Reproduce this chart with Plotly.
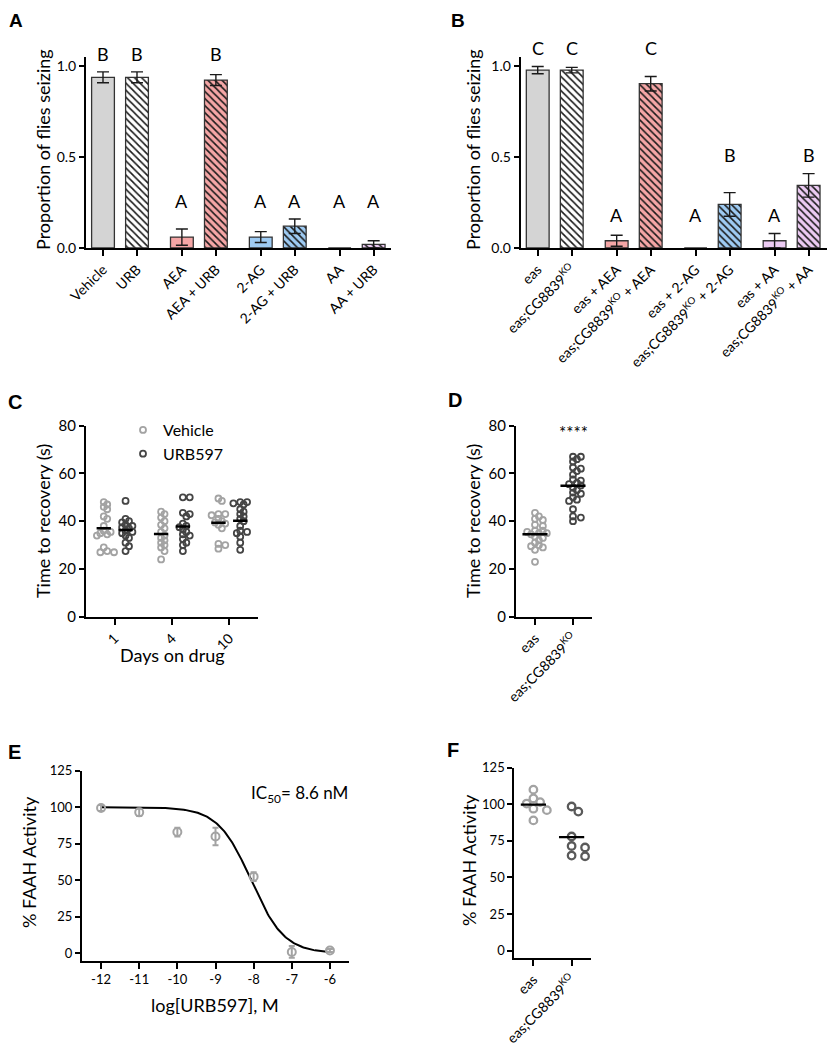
import numpy as np
import plotly.graph_objects as go

FONT = "Lato, 'Open Sans', sans-serif"
OFF = 8                     # page body margin in the browser
W, H = 837 - OFF, 1050 - OFF - 2

# ---------------- data ----------------
# Panel A
a_labels = ["Vehicle", "URB", "AEA", "AEA + URB", "2-AG", "2-AG + URB", "AA", "AA + URB"]
a_values = [0.94, 0.94, 0.06, 0.925, 0.06, 0.12, 0.0, 0.02]
a_errors = [0.03, 0.03, 0.045, 0.03, 0.03, 0.04, 0.0, 0.02]
a_letters = ["B", "B", "A", "B", "A", "A", "A", "A"]

# Panel B
KO = "eas;CG8839<sup>KO</sup>"
b_labels = ["eas", KO, "eas + AEA", KO + " + AEA", "eas + 2-AG", KO + " + 2-AG", "eas + AA", KO + " + AA"]
b_values = [0.98, 0.98, 0.04, 0.905, 0.0, 0.24, 0.04, 0.345]
b_errors = [0.02, 0.015, 0.03, 0.04, 0.0, 0.065, 0.04, 0.065]
b_letters = ["C", "C", "A", "C", "A", "B", "A", "B"]

# Panel C
c_days = ["1", "4", "10"]
c_vehicle = [
    [48, 47, 46, 45, 42, 41, 38, 36, 35.5, 35, 34.5, 34, 29, 27.5, 27, 27],
    [44, 43, 41.5, 40, 38.5, 37, 35.5, 34, 33, 32, 31, 30, 29, 27.5, 24],
    [49.5, 48.5, 43, 43, 42.5, 41, 40, 39.5, 39, 38.5, 37, 30.5, 30, 28.5],
]
c_urb = [
    [48.5, 41, 40, 39.5, 38.5, 38, 37.5, 37, 36, 35.5, 35, 34, 33, 31, 29.5, 27.5],
    [50, 50, 43.5, 43, 42, 39, 38, 37.5, 36.5, 35.5, 34.5, 34, 32.5, 31, 30, 27.5],
    [48, 48, 47.5, 47, 45, 44, 43, 42, 41, 40, 38, 36, 35.5, 35, 33.5, 31, 28],
]

# Panel D
d_labels = ["eas", KO]
d_eas = [43.5, 42, 40.5, 41, 38.5, 38, 36, 35.5, 36, 35, 35, 34.5, 33.5, 33, 32, 31, 30, 29.5, 29, 28, 23]
d_ko = [67, 67, 66, 65, 62.5, 62, 61, 59.5, 57.5, 57, 56, 55.5, 55, 54, 53, 52, 51.5, 50, 49, 48.5, 45, 42, 41.5, 40]

# Panel E
e_logconc = [-12, -11, -10, -9, -8, -7, -6]
e_tick_text = ["-12", "-11", "-10", "-9", "-8", "-7", "-6"]
e_activity = [99.5, 96.5, 83, 80, 52.5, 1, 2]
e_sem = [2, 2.5, 3, 6, 3, 4, 1]
e_ic50_nM = 8.6
e_hill = 1.0
e_top, e_bottom = 100.0, 0.0

# Panel F
f_labels = ["eas", KO]
f_eas = [110, 104, 101.5, 100.5, 97, 96, 89]
f_ko = [98.5, 95, 78, 71.5, 70.5, 65, 64.5]

# ---------------- styles ----------------
bar_fills = ["#d4d4d4", "#ffffff", "#f5a6a6", "#f5a6a6", "#9ecbf3", "#9ecbf3", "#eccbf3", "#eccbf3"]
bar_hatched = [False, True, False, True, False, True, False, True]
VEH_C = "#a3a3a3"
URB_C = "#454545"


def xd(p0, p1):
    return [(p0 - OFF) / W, (p1 - OFF) / W]


def yd(top, bot):
    return [1 - (bot - OFF) / H, 1 - (top - OFF) / H]


def px_x(x):
    return (x - OFF) / W


def px_y(y):
    return 1 - (y - OFF) / H


def swarm(values, ppu_y, ppu_x, diam, step_frac=0.9):
    vals = np.asarray(values, dtype=float)
    order = np.argsort(-vals)
    placed = []
    off = np.zeros(len(vals))
    step = diam * step_frac
    for i in order:
        y = vals[i] * ppu_y
        for k in range(0, 40):
            c = 0.0 if k == 0 else ((k + 1) // 2) * step * (1 if k % 2 else -1)
            if all((c - px) ** 2 + (y - py) ** 2 >= diam ** 2 for px, py in placed):
                placed.append((c, y))
                off[i] = c / ppu_x
                break
    return off


fig = go.Figure()

# bar positions: pairs separated by a gap
pos = np.array([(i // 2) * 2.32 + (i % 2) for i in range(8)])


def add_bars(values, errors, xa, ya):
    for i in range(len(values)):
        fill = bar_fills[i]
        if bar_hatched[i]:
            pat = dict(shape="\\", fgcolor="#1a1a1a", bgcolor=fill, size=5, solidity=0.32, fillmode="replace")
        else:
            pat = dict(shape="")
        fig.add_trace(go.Bar(
            x=[pos[i]], y=[values[i]], width=0.67,
            marker=dict(color=fill, line=dict(color="#333333", width=1.3), pattern=pat),
            error_y=dict(type="data", array=[errors[i]], visible=errors[i] > 0,
                         color="#1a1a1a", thickness=1.4, width=6),
            xaxis=xa, yaxis=ya, showlegend=False, hoverinfo="skip"))


add_bars(a_values, a_errors, "x", "y")
add_bars(b_values, b_errors, "x2", "y2")

annotations = []


def letter_annots(values, errors, letters, xref, yref, pad=0.028):
    tops = np.array(values) + np.array(errors)
    for L in sorted(set(letters)):
        idx = [j for j, l in enumerate(letters) if l == L]
        yv = max(tops[j] for j in idx) + pad
        for j in idx:
            annotations.append(dict(x=pos[j], y=yv, xref=xref, yref=yref, text=L, showarrow=False,
                                    yanchor="bottom", font=dict(family=FONT, size=18, color="black")))


letter_annots(a_values, a_errors, a_letters, "x", "y")
letter_annots(b_values, b_errors, b_letters, "x2", "y2")

# Panel C scatter
C_PPX, C_PPY = 57.3, 2.3875
for d in range(3):
    for vals, shift, col, name in [(c_vehicle[d], -0.19, VEH_C, "Vehicle"), (c_urb[d], 0.19, URB_C, "URB597")]:
        off = swarm(vals, C_PPY, C_PPX, 3.8)
        fig.add_trace(go.Scatter(
            x=d + shift + off, y=vals, mode="markers",
            marker=dict(symbol="circle-open", size=6, color=col, line=dict(width=1.8, color=col)),
            xaxis="x3", yaxis="y3", name=name, showlegend=(d == 0), hoverinfo="skip"))
        m = float(np.mean(vals))
        fig.add_trace(go.Scatter(
            x=[d + shift - 0.125, d + shift + 0.125], y=[m, m], mode="lines",
            line=dict(color="black", width=2.5), xaxis="x3", yaxis="y3", showlegend=False, hoverinfo="skip"))

# Panel D scatter
D_PPX = 38.3
for k, (vals, col) in enumerate([(d_eas, VEH_C), (d_ko, URB_C)]):
    off = swarm(vals, C_PPY, D_PPX, 4.4)
    fig.add_trace(go.Scatter(
        x=k + off, y=vals, mode="markers",
        marker=dict(symbol="circle-open", size=6, color=col, line=dict(width=1.8, color=col)),
        xaxis="x4", yaxis="y4", showlegend=False, hoverinfo="skip"))
    m = float(np.mean(vals))
    fig.add_trace(go.Scatter(x=[k - 0.33, k + 0.33], y=[m, m], mode="lines",
                             line=dict(color="black", width=2.5), xaxis="x4", yaxis="y4",
                             showlegend=False, hoverinfo="skip"))

# Panel E
log_ic50 = np.log10(e_ic50_nM * 1e-9)
xc = np.linspace(min(e_logconc), max(e_logconc), 200)
yc = e_bottom + (e_top - e_bottom) / (1 + 10 ** ((xc - log_ic50) * e_hill))
fig.add_trace(go.Scatter(x=xc, y=yc, mode="lines", line=dict(color="black", width=2),
                         xaxis="x5", yaxis="y5", showlegend=False, hoverinfo="skip"))
fig.add_trace(go.Scatter(
    x=e_logconc, y=e_activity, mode="markers",
    marker=dict(symbol="circle-open", size=8, color=VEH_C, line=dict(width=2, color=VEH_C)),
    error_y=dict(type="data", array=e_sem, color=VEH_C, thickness=2, width=3),
    xaxis="x5", yaxis="y5", showlegend=False, hoverinfo="skip"))

# Panel F
F_PPY = 1.464
for k, (vals, col) in enumerate([(f_eas, VEH_C), (f_ko, "#5a5a5a")]):
    off = swarm(vals, F_PPY, D_PPX, 7.5)
    fig.add_trace(go.Scatter(
        x=k + off, y=vals, mode="markers",
        marker=dict(symbol="circle-open", size=7.5, color=col, line=dict(width=2.3, color=col)),
        xaxis="x6", yaxis="y6", showlegend=False, hoverinfo="skip"))
    m = float(np.mean(vals))
    fig.add_trace(go.Scatter(x=[k - 0.33, k + 0.33], y=[m, m], mode="lines",
                             line=dict(color="black", width=2.2), xaxis="x6", yaxis="y6",
                             showlegend=False, hoverinfo="skip"))


def ax(**kw):
    base = dict(showline=True, linecolor="black", linewidth=2, ticks="outside", tickcolor="black",
                tickwidth=2, ticklen=5, showgrid=False, zeroline=False, fixedrange=True, automargin=False,
                tickfont=dict(family=FONT, size=13, color="black"))
    base.update(kw)
    return base


TF14 = dict(family=FONT, size=14, color="black")
TF15 = dict(family=FONT, size=15, color="black")

layout = dict(
    width=W, height=H, margin=dict(l=0, r=0, t=0, b=0, pad=0, autoexpand=False),
    paper_bgcolor="white", plot_bgcolor="white", barmode="overlay",
    font=dict(family=FONT, color="black"),
    xaxis=ax(domain=xd(86, 391), range=[-0.5, 8.47], tickvals=pos, ticktext=a_labels, tickangle=-45,
             anchor="y", ticklen=6, tickfont=TF14),
    yaxis=ax(domain=yd(57.4, 248), range=[0, 1.05], tickvals=[0, 0.5, 1.0], ticktext=["0.0", "0.5", "1.0"],
             anchor="x", tickfont=TF14),
    xaxis2=ax(domain=xd(520.7, 827), range=[-0.5, 8.5], tickvals=pos, ticktext=b_labels, tickangle=-45,
              anchor="y2", ticklen=6, tickfont=TF14),
    yaxis2=ax(domain=yd(57.4, 248), range=[0, 1.05], tickvals=[0, 0.5, 1.0], ticktext=["0.0", "0.5", "1.0"],
              anchor="x2", tickfont=TF14),
    xaxis3=ax(domain=xd(86, 258), range=[-0.5, 2.5], tickvals=[0, 1, 2], ticktext=c_days, tickangle=-45,
              anchor="y3", ticklen=6, tickfont=TF14),
    yaxis3=ax(domain=yd(425.7, 616.7), range=[0, 80], tickvals=[0, 20, 40, 60, 80], anchor="x3",
              tickfont=TF15),
    xaxis4=ax(domain=xd(516, 592), range=[-0.5, 1.5], tickvals=[0, 1], ticktext=d_labels, tickangle=-45,
              anchor="y4", ticklen=6, tickfont=TF14),
    yaxis4=ax(domain=yd(425.7, 616.7), range=[0, 80], tickvals=[0, 20, 40, 60, 80], anchor="x4",
              tickfont=TF15),
    xaxis5=ax(domain=xd(82, 349), range=[-12.5, -5.5], tickvals=e_logconc, ticktext=e_tick_text,
              anchor="y5", ticklen=6),
    yaxis5=ax(domain=yd(770.7, 960.7), range=[-5, 125], tickvals=[0, 25, 50, 75, 100, 125], anchor="x5"),
    xaxis6=ax(domain=xd(514.3, 590.7), range=[-0.5, 1.5], tickvals=[0, 1], ticktext=f_labels, tickangle=-45,
              anchor="y6", ticklen=6, tickfont=TF14),
    yaxis6=ax(domain=yd(767.7, 958), range=[-5, 125], tickvals=[0, 25, 50, 75, 100, 125], anchor="x6"),
    legend=dict(x=px_x(123), y=px_y(413), xanchor="left", yanchor="top", bgcolor="rgba(0,0,0,0)",
                font=dict(family=FONT, size=16, color="black"), itemwidth=30, tracegroupgap=0),
)


def ptxt(text, x, y, size=20):
    annotations.append(dict(text=f"<b>{text}</b>", x=px_x(x), y=px_y(y), xref="paper", yref="paper",
                            showarrow=False, xanchor="center", yanchor="middle",
                            font=dict(family="Liberation Sans, Arial, sans-serif", size=size, color="black")))


for t, x, y in [("A", 16, 21), ("B", 458, 21), ("C", 15, 402), ("D", 455, 400), ("E", 14, 752), ("F", 453, 750)]:
    ptxt(t, x, y, 19 if y < 30 else 20)


def title(text, x, y, angle=0, size=18):
    annotations.append(dict(text=text, x=px_x(x), y=px_y(y), xref="paper", yref="paper", showarrow=False,
                            xanchor="center", yanchor="middle", textangle=angle,
                            font=dict(family=FONT, size=size, color="black")))


title("Proportion of flies seizing", 43, 150, -90)
title("Proportion of flies seizing", 473, 150, -90)
title("Time to recovery (s)", 43, 521, -90)
title("Time to recovery (s)", 473, 521, -90)
title("Days on drug", 172, 655)
title("% FAAH Activity", 29, 862, -90)
title("% FAAH Activity", 469, 860, -90)
title("log[URB597], M", 215, 1005)

annotations.append(dict(text="IC<sub>50</sub>= 8.6 nM", x=-6.81, y=109, xref="x5", yref="y5", showarrow=False,
                        font=dict(family=FONT, size=17, color="black")))
annotations.append(dict(text="****", x=1, y=77, xref="x4", yref="y4", showarrow=False,
                        font=dict(family=FONT, size=17, color="black")))
annotations.append(dict(text="**", x=1, y=135, xref="x6", yref="y6", showarrow=False,
                        font=dict(family=FONT, size=17, color="black")))

layout["annotations"] = annotations
fig.update_layout(**layout)
fig.write_html("out.html")
